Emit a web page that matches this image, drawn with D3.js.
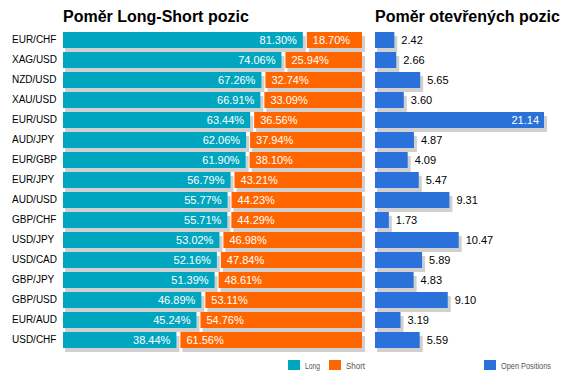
<!DOCTYPE html>
<html>
<head>
<meta charset="utf-8">
<script src="https://cdn.jsdelivr.net/npm/d3@7"></script>
<style>
  body { margin: 0; background: #fff; }
  svg { font-family: Arial, "Liberation Sans", sans-serif; display: block; }
</style>
</head>
<body>
<svg id="chart"></svg>
<script>
let pairs = ['EUR/CHF', 'XAG/USD', 'NZD/USD', 'XAU/USD', 'EUR/USD', 'AUD/JPY', 'EUR/GBP', 'EUR/JPY',
             'AUD/USD', 'GBP/CHF', 'USD/JPY', 'USD/CAD', 'GBP/JPY', 'GBP/USD', 'EUR/AUD', 'USD/CHF'];
let longPct = [81.30, 74.06, 67.26, 66.91, 63.44, 62.06, 61.90, 56.79, 55.77, 55.71, 53.02, 52.16, 51.39, 46.89, 45.24, 38.44];
let shortPct = [18.70, 25.94, 32.74, 33.09, 36.56, 37.94, 38.10, 43.21, 44.23, 44.29, 46.98, 47.84, 48.61, 53.11, 54.76, 61.56];
let openPos = [2.42, 2.66, 5.65, 3.60, 21.14, 4.87, 4.09, 5.47, 9.31, 1.73, 10.47, 5.89, 4.83, 9.10, 3.19, 5.59];
let legendLabels = ['Long', 'Short', 'Open Positions'];

let width = 571;
let height = 381;

let teal = '#00a6bf';
let orange = '#ff6600';
let blue = '#2a72d9';
let shadow = '#d0d0d0';

let svg = d3.select('#chart').attr('width', width).attr('height', height);

let leftX = 63;
let rightX = 375;
let gap = 4;

let yScale = d3.scaleBand()
    .domain(pairs)
    .range([30, 350])
    .paddingInner(0.2)
    .paddingOuter(0.1);

let pctScale = d3.scaleLinear().domain([0, 100]).range([0, 295]);
let openScale = d3.scaleLinear().domain([0, d3.max(openPos)]).range([0, 169]);

let fmt = d3.format('.2f');

let rows = pairs.map((p, i) => ({ pair: p, long: longPct[i], short: shortPct[i], open: openPos[i] }));

// titles
svg.append('text').attr('x', leftX).attr('y', 22)
    .attr('font-size', 16).attr('font-weight', 'bold').attr('fill', '#000')
    .text('Poměr Long-Short pozic');
svg.append('text').attr('x', rightX).attr('y', 22)
    .attr('font-size', 16).attr('font-weight', 'bold').attr('fill', '#000')
    .text('Poměr otevřených pozic');

// category axis
let yAxis = d3.axisLeft(yScale).tickSize(0).tickPadding(0);
let gAxis = svg.append('g').attr('transform', 'translate(12,0)').call(yAxis);
gAxis.select('.domain').remove();
gAxis.attr('font-size', 10).attr('font-family', 'Arial, "Liberation Sans", sans-serif');
gAxis.selectAll('text')
    .attr('text-anchor', 'start')
    .attr('x', 0)
    .attr('fill', '#000');

let bh = yScale.bandwidth();

// bar with a grey drop shadow
let drawBar = (g, x, y, w, color) => {
    g.append('rect').attr('x', x + 2).attr('y', y + 4).attr('width', w + 1).attr('height', bh).attr('fill', shadow);
    g.append('rect').attr('x', x).attr('y', y).attr('width', w).attr('height', bh).attr('fill', color);
};

let row = svg.selectAll('g.row').data(rows).enter().append('g').attr('class', 'row');

row.each(function (d) {
    let g = d3.select(this);
    let y = yScale(d.pair);
    let wl = pctScale(d.long);
    let ws = pctScale(d.short);
    let sx = leftX + wl + gap;
    drawBar(g, leftX, y, wl, teal);
    drawBar(g, sx, y, ws, orange);

    g.append('text').attr('x', leftX + wl - 6).attr('y', y + bh / 2).attr('dy', '0.36em')
        .attr('text-anchor', 'end').attr('font-size', 11).attr('fill', '#fff')
        .text(fmt(d.long) + '%');
    g.append('text').attr('x', sx + 6).attr('y', y + bh / 2).attr('dy', '0.36em')
        .attr('font-size', 11).attr('fill', '#fff')
        .text(fmt(d.short) + '%');

    let wo = openScale(d.open);
    drawBar(g, rightX, y, wo, blue);
    let inside = rightX + wo + 40 > width;
    g.append('text')
        .attr('x', inside ? rightX + wo - 5 : rightX + wo + 7)
        .attr('y', y + bh / 2).attr('dy', '0.36em')
        .attr('text-anchor', inside ? 'end' : 'start')
        .attr('font-size', 11).attr('fill', inside ? '#fff' : '#000')
        .text(fmt(d.open));
});

// legend
let legendColors = [teal, orange, blue];
let legendX = [288, 329, 484];
let legendW = [15, 19, 50];
let lg = svg.selectAll('g.legend').data(legendLabels).enter().append('g').attr('class', 'legend');
lg.append('rect').attr('x', (d, i) => legendX[i]).attr('y', 360).attr('width', 12).attr('height', 10)
    .attr('fill', (d, i) => legendColors[i]);
lg.append('text').attr('x', (d, i) => legendX[i] + 17).attr('y', 368.5)
    .attr('font-size', 9.5).attr('fill', '#555')
    .attr('textLength', (d, i) => legendW[i]).attr('lengthAdjust', 'spacingAndGlyphs')
    .text(d => d);
</script>
</body>
</html>
